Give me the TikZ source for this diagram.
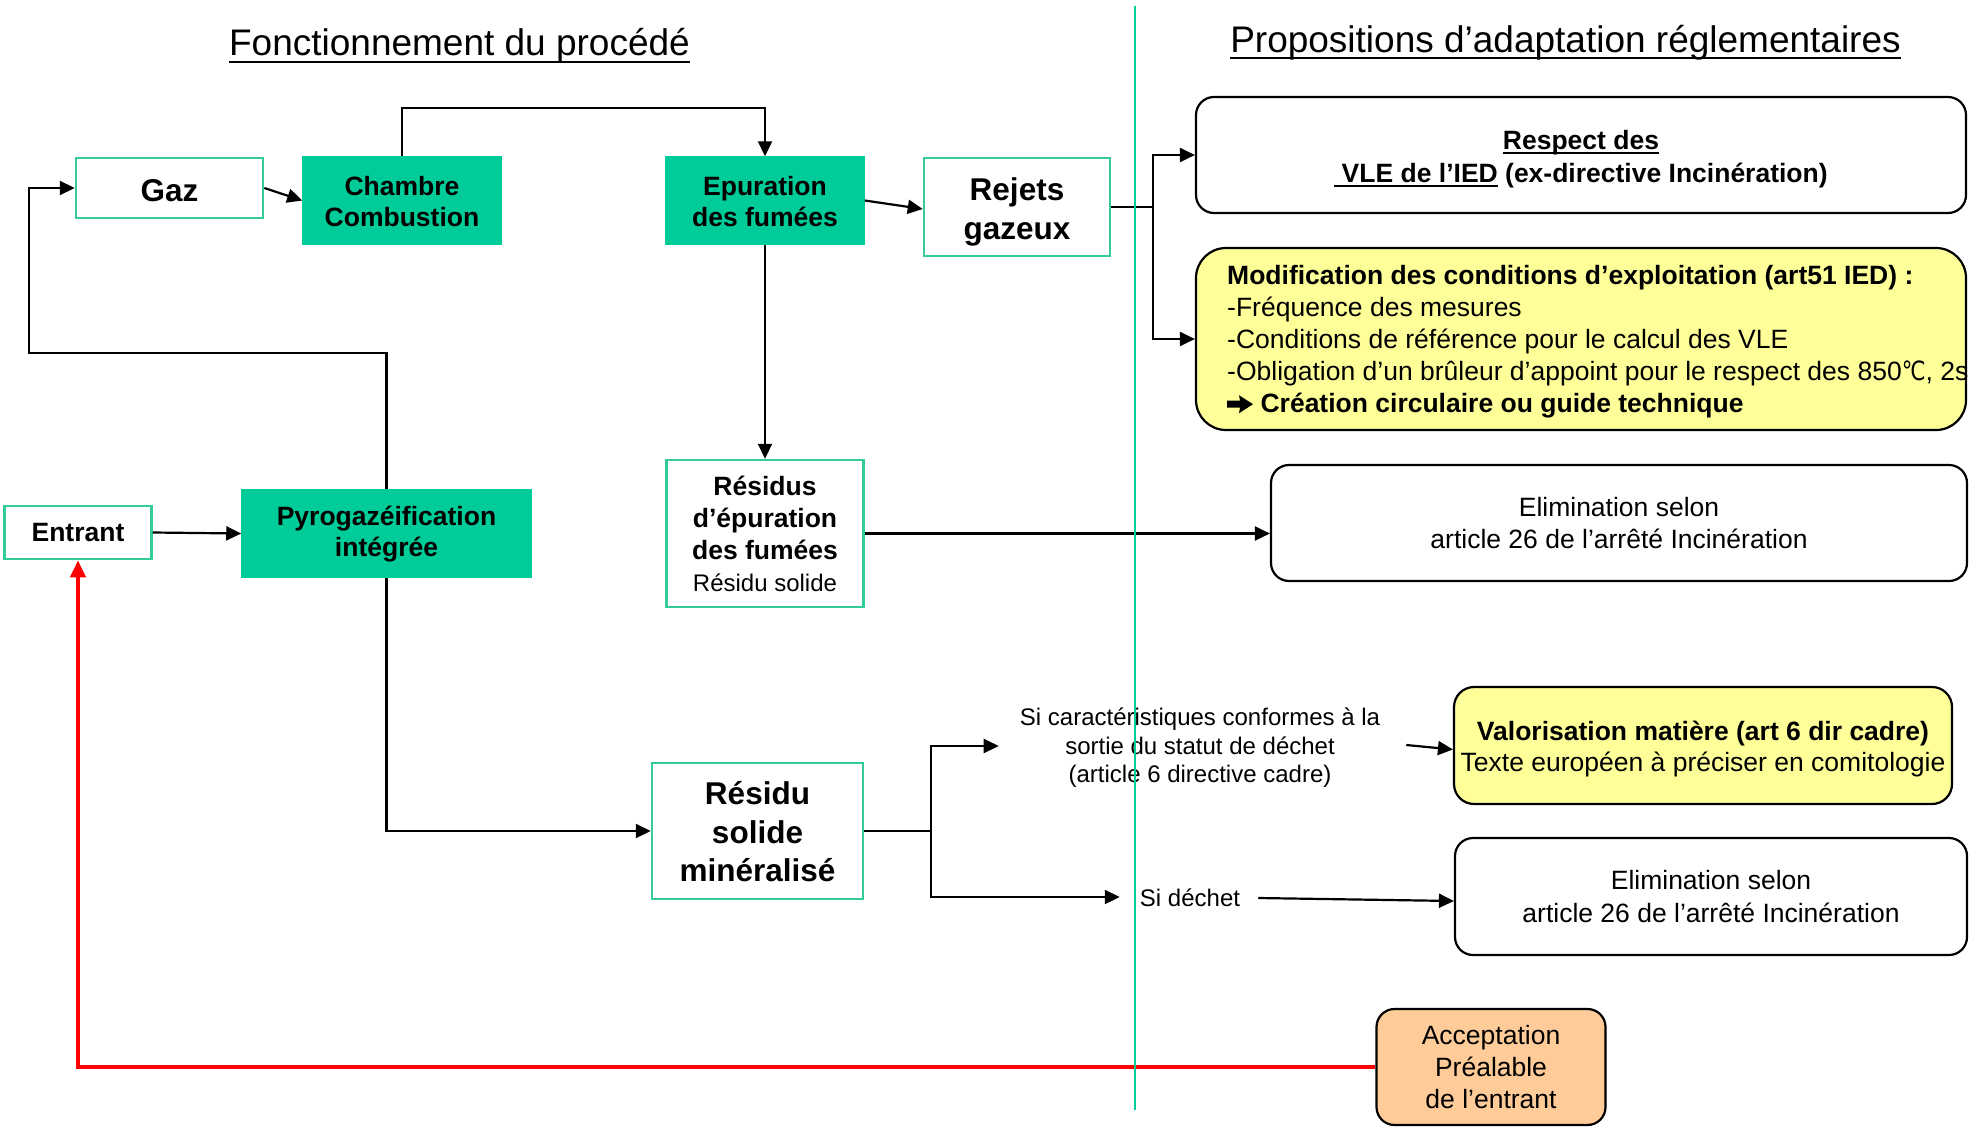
\documentclass[tikz,border=0pt]{standalone}
\usepackage{fontspec}
\setmainfont{Liberation Sans}
\newfontfamily\symfont{DejaVu Sans}
\usetikzlibrary{arrows.meta,calc}

\definecolor{procgreen}{HTML}{00CC99}
\definecolor{boxline}{HTML}{33CC99}
\definecolor{propyellow}{HTML}{FFFF99}
\definecolor{accorange}{HTML}{FFCC99}

\newcommand\fz[2]{\fontsize{#1}{#2}\selectfont}
% underline drawn at a fixed depth under the baseline
\newcommand\undl[1]{\leavevmode\setbox0\hbox{#1}\rlap{\rule[-5pt]{\wd0}{2.2pt}}\box0\relax}
% invisible strut that makes a first line taller, pushing a text block down
\newcommand\drop[1]{\rule{0pt}{#1}}

\begin{document}
\begin{tikzpicture}[x=1pt,y=-1pt,
  every node/.style={inner sep=0pt, align=center},
  proc/.style={fill=procgreen, draw=procgreen, line width=1.5pt, font=\fz{26.5}{31}\bfseries},
  flow/.style={draw=boxline, fill=white, line width=2.5pt},
  prop/.style={draw=black, fill=white, line width=2.2pt, rounded corners=18pt},
  wire/.style={draw=black, line width=2.2pt},
  link/.style={wire, -{Triangle[length=15pt,width=14pt]}},
  redlink/.style={draw=red, line width=4pt, -{Triangle[length=17pt,width=15pt]}},
]
\useasboundingbox (0,0) rectangle (1977,1127);

% column headings
\node[anchor=base, font=\fz{37}{44}] (titleL) at (459.5,55) {Fonctionnement du procédé};
\draw[line width=2.8pt] ([yshift=-7pt]titleL.base west) -- ([yshift=-7pt]titleL.base east);
\node[anchor=base, font=\fz{37}{44}] (titleR) at (1565.5,52) {Propositions d’adaptation réglementaires};
\draw[line width=2.8pt] ([yshift=-6pt]titleR.base west) -- ([yshift=-6pt]titleR.base east);

% process side
\node[flow, minimum width=187, minimum height=60, font=\fz{31.5}{38}\bfseries] (gaz) at (169.5,188) {\drop{27pt}Gaz};
\node[proc, minimum width=198, minimum height=87] (chambre) at (402,200.5) {\drop{22pt}Chambre\\Combustion};
\node[proc, minimum width=198, minimum height=87] (epur) at (765,200.5) {\drop{22pt}Epuration\\des fumées};
\node[flow, minimum width=186, minimum height=98, font=\fz{31.5}{39}\bfseries] (rejets) at (1017,207) {\drop{32pt}Rejets\\gazeux};
\node[flow, minimum width=147, minimum height=53, font=\fz{26.5}{31}\bfseries] (entrant) at (78,532.5) {Entrant};
\node[proc, minimum width=289, minimum height=87] (pyro) at (386.5,533.5) {\drop{21pt}Pyrogazéification\\intégrée};
\node[flow, minimum width=197, minimum height=147, font=\fz{26.5}{32}\bfseries] (residus) at (765,533.5)
  {Résidus\\d’épuration\\des fumées\\{\fz{24}{30}\mdseries Résidu solide}};
\node[flow, minimum width=211, minimum height=136, font=\fz{31.5}{38.5}\bfseries] (rsm) at (757.5,831)
  {\drop{25pt}Résidu\\solide\\minéralisé};

% regulatory side
\node[prop, minimum width=770, minimum height=116, font=\fz{26.5}{33}\bfseries] (respect) at (1581,155)
  {\drop{27pt}\undl{Respect des}\\\undl{\ VLE de l’IED} (ex-directive Incinération)};
\node[prop, fill=propyellow, rounded corners=30pt, minimum width=770, minimum height=182] (modif) at (1581,339) {};
\node[anchor=west, align=left, font=\fz{26.5}{32.1}] (modiftext) at (1227,342)
  {\textbf{Modification des conditions d’exploitation (art51 IED) :}\\
   -Fréquence des mesures\\
   -Conditions de référence pour le calcul des VLE\\
   -Obligation d’un brûleur d’appoint pour le respect des 850\scalebox{0.8}[1]{\symfont ℃}, 2s\\
   \textbf{\hspace*{26pt}\ Création circulaire ou guide technique}};
% heavy arrow at the start of the last line
\begin{scope}[shift={($(modiftext.south west)+(0,-5.6)$)}]
  \fill (0,-5.5) -- (13,-5.5) -- (12,0) -- (26,-9) -- (12,-18) -- (13,-12.5) -- (0,-12.5) -- cycle;
\end{scope}
\node[prop, minimum width=696, minimum height=116, font=\fz{26.5}{32}] (elim1) at (1619,523)
  {Elimination selon\\article 26 de l’arrêté Incinération};
\node[font=\fz{24}{28.5}] (sicar) at (1200,748)
  {Si caractéristiques conformes à la\\sortie du statut de déchet\\(article 6 directive cadre)};
\node[font=\fz{24}{29}] (sidechet) at (1190,898) {Si déchet};
\node[prop, fill=propyellow, rounded corners=20pt, minimum width=498, minimum height=117, font=\fz{26.5}{31}] (valo) at (1703,745.5)
  {\drop{27pt}\textbf{Valorisation matière (art 6 dir cadre)}\\Texte européen à préciser en comitologie};
\node[prop, minimum width=512, minimum height=117, font=\fz{26.5}{33}] (elim2) at (1711,896.5)
  {Elimination selon\\article 26 de l’arrêté Incinération};
\node[prop, fill=accorange, minimum width=229, minimum height=116, font=\fz{26.5}{32}] (accept) at (1491,1067)
  {Acceptation\\Préalable\\de l’entrant};

% branching points
\coordinate (loopA) at (29,353);
\coordinate (rjsplit) at (1153,207);
\coordinate (rsmsplit) at (931,831);

% connectors
\draw[link] (pyro.north) |- (loopA) |- (gaz.west);
\draw[link] (gaz.east) -- (chambre.west);
\draw[link] (chambre.north) -- ++(0,-48) -| (epur.north);
\draw[link] (epur.east) -- ($(rejets.west)+(0,2)$);
\draw[link] (epur.south) -- (residus.north);
\draw[wire] (rejets.east) -- (rjsplit);
\draw[link] (rjsplit) |- (respect.west);
\draw[link] (rjsplit) |- (modif.west);
\draw[link] (entrant.east) -- (pyro.west);
\draw[link] (residus.east) -- (residus.east -| elim1.west);
\draw[link] (pyro.south) |- (rsm.west);
\draw[wire] (rsm.east) -- (rsmsplit);
\draw[link] (rsmsplit) |- ($(sicar.west)+(-21,-2)$);
\draw[link] (rsmsplit) |- ($(sidechet.west)+(-20,-1)$);
\draw[link] ($(sicar.east)+(26,-3)$) -- ($(valo.west)+(0,4)$);
\draw[link] ($(sidechet.east)+(18,0)$) -- ($(elim2.west)+(0,4.5)$);
\draw[redlink] (accept.west) -| (entrant.south);

% separation between the two columns
\draw[procgreen, line width=1.6pt] (1135,6) -- (1135,1110);
\end{tikzpicture}
\end{document}
